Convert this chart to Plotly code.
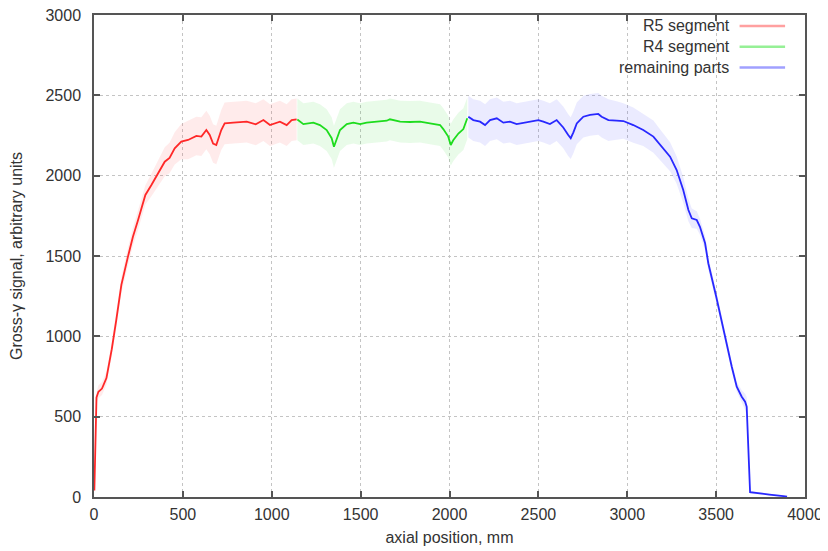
import plotly.graph_objects as go

# ---- data ----
r5_x = [2, 8, 14, 25, 45, 70, 100, 125, 154, 191, 219, 248, 289, 323, 360, 398, 425, 454, 491, 529,
        576, 604, 632, 651, 670, 688, 716, 735, 784, 859, 910, 953, 990, 1046, 1084, 1112, 1140]
r5_y = [40, 350, 620, 655, 675, 740, 920, 1100, 1320, 1496, 1620, 1724, 1880, 1942, 2015, 2087, 2110, 2170, 2212, 2222,
        2247, 2243, 2284, 2253, 2200, 2191, 2284, 2326, 2330, 2336, 2320, 2346, 2315, 2336, 2315, 2346, 2351]
r5_spread = [10, 20, 30, 40, 40, 40, 45, 50, 50, 55, 55, 60, 60, 70, 80, 90, 95, 100, 110, 120,
             120, 120, 120, 120, 120, 120, 125, 130, 130, 130, 130, 130, 130, 130, 130, 130, 130]

r4_x = [1144, 1178, 1234, 1271, 1309, 1337, 1350, 1365, 1384, 1422, 1459, 1497, 1534, 1591, 1647, 1665, 1722,
        1778, 1834, 1890, 1947, 1965, 1993, 2007, 2021, 2050, 2078, 2100]
r4_y = [2350, 2321, 2330, 2315, 2284, 2233, 2180, 2230, 2284, 2321, 2330, 2321, 2330, 2336, 2342, 2351, 2336,
        2334, 2336, 2325, 2315, 2290, 2243, 2191, 2220, 2262, 2290, 2357]
r4_spread = [130] * len(r4_x)

rem_x = [2106, 2134, 2172, 2200, 2228, 2266, 2303, 2340, 2378, 2415, 2453, 2500, 2528, 2565, 2603, 2640, 2668,
         2682, 2697, 2716, 2734, 2753, 2791, 2837, 2856, 2894, 2940, 2978, 3034, 3090, 3147, 3194, 3241, 3278,
         3315, 3344, 3363, 3391, 3409, 3438, 3456, 3500, 3541, 3560, 3588, 3616, 3644, 3663, 3672, 3691, 3709,
         3800, 3878, 3899]
rem_y = [2367, 2346, 2336, 2315, 2346, 2357, 2330, 2336, 2321, 2330, 2336, 2346, 2336, 2321, 2346, 2300, 2253,
         2233, 2270, 2325, 2346, 2367, 2378, 2384, 2367, 2346, 2343, 2340, 2315, 2284, 2243, 2180, 2118, 2035,
         1911, 1786, 1735, 1724, 1682, 1579, 1455, 1250, 1046, 935, 811, 687, 624, 593, 562, 30, 27,
         15, 6, 2]
rem_spread = [130, 130, 130, 130, 130, 130, 130, 130, 130, 130, 130, 130, 130, 130, 130, 130, 130,
              130, 130, 130, 130, 130, 130, 130, 130, 130, 120, 110, 110, 100, 100, 95, 90, 85,
              80, 70, 60, 55, 50, 45, 40, 35, 30, 30, 30, 30, 40, 50, 60, 10, 8,
              6, 5, 4]

series = [
    ("R5 segment", r5_x, r5_y, r5_spread, "rgb(255,40,40)", "rgba(255,60,60,0.10)", "rgb(255,160,160)"),
    ("R4 segment", r4_x, r4_y, r4_spread, "rgb(30,220,30)", "rgba(40,220,40,0.10)", "rgb(150,240,150)"),
    ("remaining parts", rem_x, rem_y, rem_spread, "rgb(40,40,255)", "rgba(60,60,255,0.10)", "rgb(160,160,255)"),
]

fig = go.Figure()
for name, xs, ys, sp, lc, fc, legc in series:
    lower = [y - s for y, s in zip(ys, sp)]
    upper = [y + s for y, s in zip(ys, sp)]
    fig.add_trace(go.Scatter(x=xs, y=lower, mode="lines", line=dict(width=0),
                             showlegend=False, hoverinfo="skip"))
    fig.add_trace(go.Scatter(x=xs, y=upper, mode="lines", line=dict(width=0),
                             fill="tonexty", fillcolor=fc, showlegend=False, hoverinfo="skip"))
    fig.add_trace(go.Scatter(x=xs, y=ys, mode="lines", name=name,
                             line=dict(color=lc, width=1.8), showlegend=False))

# custom legend (text right-aligned, sample line to the right, gnuplot style)
names = [s[0] for s in series]
fig.add_annotation(x=0.897, y=0.934, xref="paper", yref="paper", text="<br>".join(names),
                   showarrow=False, xanchor="right", yanchor="middle", align="right",
                   font=dict(size=16, color="#333"))
leg_rows = [0.977, 0.934, 0.891]
for s, ry in zip(series, leg_rows):
    fig.add_shape(type="line", xref="paper", yref="paper", x0=0.908, x1=0.972, y0=ry, y1=ry,
                  line=dict(color=s[6], width=2.5))

axis_common = dict(
    showline=True, mirror="ticks", linecolor="#555", linewidth=1.5,
    ticks="inside", ticklen=6, tickcolor="#555", tickwidth=1.5,
    showgrid=True, gridcolor="#c4c4c4", griddash="dot", gridwidth=1,
    zeroline=False, dtick=500, tickfont=dict(size=16, color="#333"),
    automargin=False, ticklabeloverflow="allow",
)

fig.update_xaxes(range=[0, 4000], tick0=0, ticklabelstandoff=2,
                 title=dict(text="axial position, mm", font=dict(size=16, color="#333"), standoff=10),
                 **axis_common)
fig.update_yaxes(range=[0, 3000], tick0=0, ticklabelstandoff=8,
                 title=dict(text="Gross-γ signal, arbitrary units", font=dict(size=16, color="#333"), standoff=20),
                 **axis_common)

# page body has an 8px margin: size/margins chosen so the plot area lands where the reference has it
fig.update_layout(
    width=820, height=543,
    margin=dict(l=86, r=23, t=7, b=54),
    paper_bgcolor="white", plot_bgcolor="white",
    font=dict(family="Liberation Sans, Arial, sans-serif", size=16, color="#333"),
    showlegend=False,
)

fig.write_html("out.html")
